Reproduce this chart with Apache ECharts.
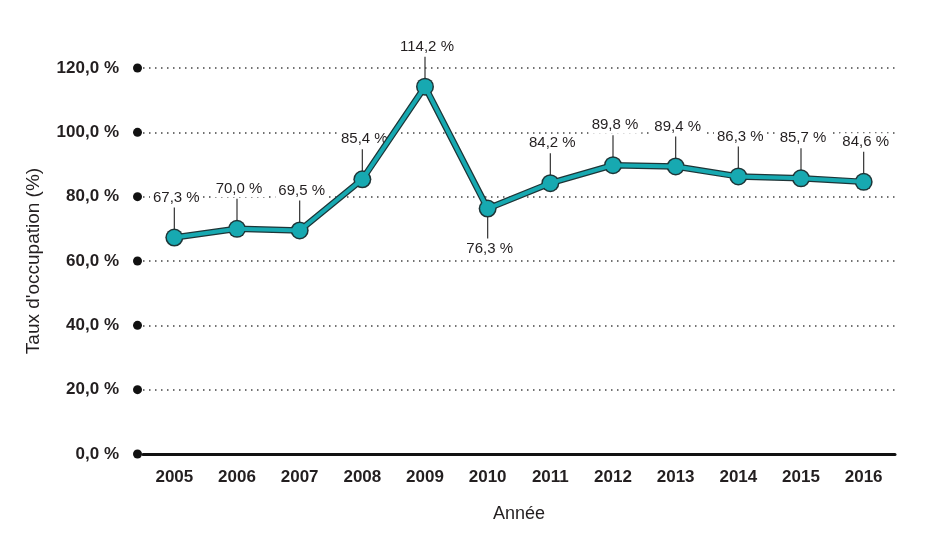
<!DOCTYPE html>
<html><head><meta charset="utf-8">
<script src="https://cdn.jsdelivr.net/npm/echarts@6/dist/echarts.min.js"></script>
<style>html,body{margin:0;padding:0;background:#fff}#c{width:927px;height:552px}</style>
</head><body><div id="c"></div>
<script>
var years = ['2005','2006','2007','2008','2009','2010','2011','2012','2013','2014','2015','2016'];
var rates = [67.3, 70.0, 69.5, 85.4, 114.2, 76.3, 84.2, 89.8, 89.4, 86.3, 85.7, 84.6];
var labelBelow = [false,false,false,false,false,true,false,false,false,false,false,false];
var yTicks = [0, 20, 40, 60, 80, 100, 120];

var FONT = '"Liberation Sans Narrow","Arial Narrow","Liberation Sans",sans-serif';
function fr(v, d){ return v.toFixed(d).replace('.', ',') + ' %'; }

var chart = echarts.init(document.getElementById('c'));
chart.setOption({
  animation: false,
  grid: { left: 143, right: 32, top: 68, bottom: 98 },
  xAxis: {
    type: 'category', data: years, boundaryGap: true,
    name: 'Année', nameLocation: 'middle', nameGap: 51,
    nameTextStyle: { fontFamily: FONT, fontSize: 18, color: '#231f20' },
    axisLine: { show: true, lineStyle: { color: '#111', width: 3 } },
    axisTick: { show: false },
    axisLabel: { fontFamily: FONT, fontSize: 17, fontWeight: 'bold', color: '#231f20', margin: 15 }
  },
  yAxis: {
    type: 'value', min: 0, max: 120, interval: 20,
    name: "Taux d'occupation (%)", nameLocation: 'middle', nameGap: 100, nameRotate: 90,
    nameTextStyle: { fontFamily: FONT, fontSize: 19, color: '#231f20' },
    axisLine: { show: false }, axisTick: { show: false },
    axisLabel: {
      margin: 1,
      formatter: function(v){ return '{t|' + fr(v, 1) + '}{d|}'; },
      rich: {
        t: { fontFamily: FONT, fontSize: 17, fontWeight: 'bold', color: '#231f20', padding: [0, 14, 0, 0] },
        d: { width: 9, height: 9, borderRadius: 4.5, backgroundColor: '#111' }
      }
    },
    splitLine: { show: true, lineStyle: { color: '#444', width: 1.5, type: [1.5, 4.5] } }
  },
  series: [
    {
      type: 'line', data: rates, z: 2, silent: true,
      lineStyle: { color: '#1e3537', width: 6.5 },
      symbol: 'circle', symbolSize: 18,
      itemStyle: { color: '#1e3537' }
    },
    {
      type: 'line', data: rates, z: 3, silent: true,
      lineStyle: { color: '#17a9b1', width: 4 },
      symbol: 'circle', symbolSize: 15,
      itemStyle: { color: '#17a9b1' }
    },
    {
      type: 'custom', z: 1, silent: true,
      data: rates.map(function(v, i){ return [i, v, labelBelow[i] ? 1 : 0]; }),
      renderItem: function(params, api){
        var p = api.coord([api.value(0), api.value(1)]);
        var below = api.value(2) === 1;
        var s = below ? 1 : -1;
        return {
          type: 'group',
          children: [
            { type: 'line', shape: { x1: p[0], y1: p[1], x2: p[0], y2: p[1] + s * 30 },
              style: { stroke: '#333', lineWidth: 1.2 } },
            { type: 'text', x: p[0] + 2, y: p[1] + s * 40,
              style: { text: fr(api.value(1), 1), fontFamily: FONT, fontSize: 15, fill: '#231f20',
                       align: 'center', verticalAlign: 'middle',
                       backgroundColor: '#fff', padding: [1, 3] } }
          ]
        };
      }
    }
  ]
});
</script></body></html>
